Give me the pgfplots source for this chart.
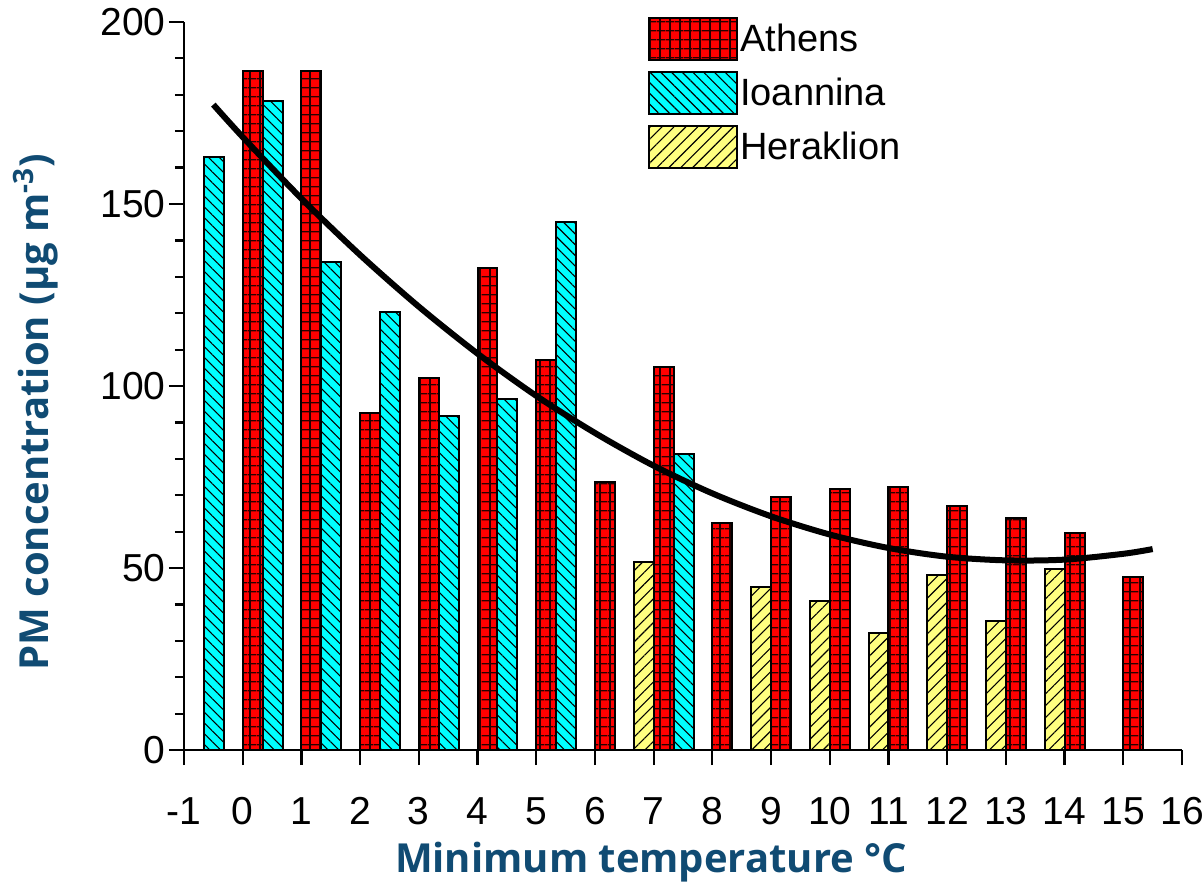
\documentclass[border=0pt]{standalone}
\usepackage{pgfplots}
\pgfplotsset{compat=1.18}
\usepackage{pgfplotstable}
\usetikzlibrary{patterns.meta}
\usepackage{fontspec}
\setmainfont{Liberation Sans}
\newfontfamily\osans{Open Sans}
\definecolor{labblue}{RGB}{16,75,115}
\definecolor{athred}{RGB}{255,0,0}
\definecolor{ioacyan}{RGB}{0,255,255}
\definecolor{heryel}{RGB}{255,255,128}

\pgfplotstableread{
x y
0 186.5
1 186.5
2 92.6
3 102.2
4 132.4
5 107.1
6 73.7
7 105.2
8 62.3
9 69.6
10 71.6
11 72.3
12 67.1
13 63.6
14 59.7
15 47.4
}\athens

\pgfplotstableread{
x y
-1 163.0
0 178.3
1 134.2
2 120.4
3 91.8
4 96.4
5 145.0
7 81.3
}\ioannina

\pgfplotstableread{
x y
7 51.7
9 44.9
10 40.8
11 32.2
12 48.1
13 35.4
14 49.6
}\heraklion

\pgfplotstableread{
x y
-0.5 177.3
0 168.4
1 151.5
2 136.0
3 121.8
4 108.9
5 97.3
6 87.1
7 78.1
8 70.5
9 64.2
10 59.2
11 55.5
12 53.1
13 52.1
14 52.3
15 53.9
15.5 55.2
}\fitcurve

\pgfplotsset{
  legpatch/.style={legend image code/.code={\draw[##1,line width=1pt] (0pt,-10.5pt) rectangle (44pt,10.5pt);}}
}

\begin{document}
\begin{tikzpicture}
\useasboundingbox (-92pt,-67pt) rectangle (510pt,375pt);
\begin{axis}[
  at={(0,0)}, anchor=south west,
  scale only axis, width=499pt, height=364pt,
  xmin=-1, xmax=16, ymin=0, ymax=200,
  axis x line=bottom, axis y line=left,
  axis line style={-, line width=1.1pt},
  xtick={-1,0,...,16}, ytick={0,50,...,200},
  minor y tick num=4,
  tick align=outside,
  major tick length=7.5pt, minor tick length=4.5pt,
  every tick/.style={line width=1.1pt, black},
  /pgf/number format/assume math mode=true,
  yticklabel style={font=\fontsize{19.5}{22}\selectfont, inner sep=1.5pt},
  xticklabel style={font=\fontsize{19.5}{22}\selectfont, anchor=center, yshift=-23pt},
  ylabel={PM concentration (µg m\textsuperscript{-3})},
  ylabel style={font=\osans\bfseries\fontsize{20}{22}\selectfont, text=labblue,
    at={(axis description cs:-0.149,0.464)}, anchor=center, rotate=0},
  legend style={at={(axis cs:6.9,201.5)}, anchor=north west, draw=none, fill=none,
    inner sep=0pt, row sep=5pt, font=\fontsize{19}{21}\selectfont,
    nodes={inner sep=1pt}},
  legend cell align=left,
  /tikz/every even column/.append style={column sep=6pt},
  clip=false,
]
\addplot[ybar, bar width=0.34, bar shift=0.17, draw=black, line width=1pt, fill=athred,
  postaction={pattern={Lines[angle=0, distance=4.35pt, line width=0.6pt]}, pattern color=black!85!athred},
  postaction={pattern={Lines[angle=90, distance=5pt, line width=0.6pt]}, pattern color=black!85!athred},
  legpatch] table[x=x,y=y] {\athens};
\addlegendentry{Athens}
\addplot[ybar, bar width=0.34, bar shift=0.51, draw=black, line width=1pt, fill=ioacyan,
  postaction={pattern={Lines[angle=-45, distance=3.8pt, line width=0.55pt]}, pattern color=black},
  legpatch] table[x=x,y=y] {\ioannina};
\addlegendentry{Ioannina}
\addplot[ybar, bar width=0.34, bar shift=-0.17, draw=black, line width=1pt, fill=heryel,
  postaction={pattern={Lines[angle=45, distance=4.2pt, line width=0.55pt]}, pattern color=black},
  legpatch] table[x=x,y=y] {\heraklion};
\addlegendentry{Heraklion}
\addplot[black, line width=3pt, smooth, no marks, forget plot] table[x=x,y=y] {\fitcurve};
\node[font=\osans\bfseries\fontsize{20}{22}\selectfont, text=labblue, anchor=base]
  at (axis description cs:0.468,-0.168) {Minimum temperature °C};
\end{axis}
\end{tikzpicture}
\end{document}
